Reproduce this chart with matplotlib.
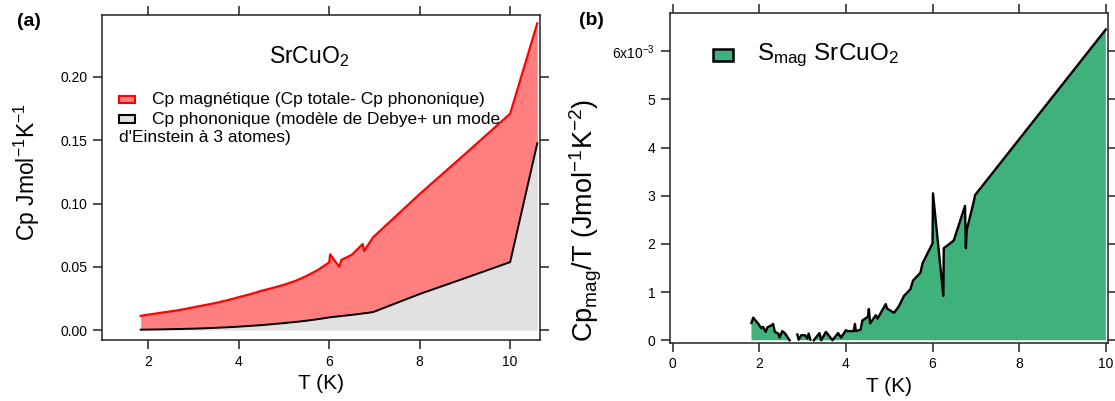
import numpy as np
import matplotlib
matplotlib.use("Agg")
import matplotlib.pyplot as plt
from matplotlib.patches import Rectangle

plt.rcParams['font.family'] = ['Liberation Sans', 'DejaVu Sans']
plt.rcParams['mathtext.fontset'] = 'custom'
plt.rcParams['mathtext.rm'] = 'Liberation Sans'
plt.rcParams['mathtext.it'] = 'Liberation Sans'
plt.rcParams['mathtext.default'] = 'regular'

# -- panel (a): Cp total (red) and phonon part (black), J/mol/K
T_a = [1.83, 2.0, 2.25, 2.5, 2.75, 3.0, 3.25, 3.5, 3.75, 4.0, 4.25, 4.5, 4.75,
       5.0, 5.25, 5.5, 5.75, 6.0, 6.02, 6.22, 6.27, 6.5, 6.74, 6.77, 6.97,
       8.0, 9.0, 10.0, 10.6]
cp_total = [0.0112, 0.0122, 0.0135, 0.0148, 0.0162, 0.018, 0.0197, 0.0215,
            0.0236, 0.026, 0.0283, 0.031, 0.0333, 0.0358, 0.0388, 0.0428,
            0.0475, 0.0535, 0.0598, 0.050, 0.0555, 0.0595, 0.068, 0.0625,
            0.0733, 0.1075, 0.139, 0.171, 0.2424]
cp_phonon = [0.0003, 0.0004, 0.0005, 0.0007, 0.0009, 0.0011, 0.0014, 0.0018,
             0.0022, 0.0027, 0.0033, 0.0039, 0.0047, 0.0055, 0.0064, 0.0074,
             0.0086, 0.0100, 0.0101, 0.0109, 0.0111, 0.0120, 0.0131, 0.0132,
             0.0142, 0.0285, 0.041, 0.0537, 0.1476]

# -- panel (b): Cp_mag/T in units of 1e-3 J/mol/K^2 (nan = gap in data)
T_b = [1.82, 1.86, 1.98, 2.05, 2.09, 2.15, 2.19, 2.28, 2.32, 2.36, 2.44, 2.47,
       2.53, 2.59, 2.64, 2.70, np.nan,
       2.88, 2.91, 2.97, 3.06, 3.11, 3.14, 3.18, np.nan,
       3.26, 3.39, 3.43, 3.54, 3.62, 3.69, 3.82, 3.89, 4.0, 4.04, 4.18, 4.21,
       4.23, 4.34, 4.38, 4.51, 4.53, 4.56, 4.69, 4.73, 4.92, 4.95, 5.11, 5.22,
       5.34, 5.49, 5.55, 5.72, 5.77, 6.0, 6.01, 6.25, 6.26, 6.49, 6.75, 6.77,
       6.79, 6.96, 6.98, 10.0]
cpmag_T = [0.36, 0.47, 0.34, 0.245, 0.28, 0.175, 0.27, 0.31, 0.34, 0.175, 0.14,
           0.056, 0.19, 0.15, 0.084, 0.0, np.nan,
           0.12, 0.014, 0.105, 0.105, 0.035, 0.14, 0.014, np.nan,
           0.0, 0.15, 0.0, 0.175, 0.084, 0.0, 0.15, 0.056, 0.21, 0.19, 0.19, 0.34,
           0.19, 0.22, 0.41, 0.49, 0.65, 0.35, 0.52, 0.45, 0.75, 0.66, 0.57, 0.70,
           0.92, 1.06, 1.24, 1.40, 1.60, 2.01, 3.05, 0.92, 1.91, 2.07, 2.79, 1.91,
           2.29, 2.91, 3.01, 6.45]

fig = plt.figure(figsize=(11.15, 4.01), dpi=100)
ax1 = fig.add_axes([0.0913, 0.152, 0.393, 0.8106])
ax2 = fig.add_axes([0.6007, 0.1454, 0.393, 0.822])

def style(ax):
    for s in ax.spines.values():
        s.set_linewidth(1.1)
        s.set_color('#222222')
    ax.tick_params(direction='out', length=6.5, width=1.1, color='#222222',
                   top=True, right=True, labelsize=10, pad=4)

# ---- (a)
t = np.array(T_a)
ax1.fill_between(t, 0, cp_phonon, color='#e1e1e1', lw=0)
ax1.fill_between(t, cp_phonon, cp_total, color='#ff7f7f', lw=0)
ax1.plot(t, cp_total, color='red', lw=1.6)
ax1.plot(t, cp_phonon, color='black', lw=1.4)
ax1.set_xlim(0.97, 10.66)
ax1.set_ylim(-0.0079, 0.249)
ax1.set_xticks([2, 4, 6, 8, 10])
ax1.set_yticks([0, 0.05, 0.10, 0.15, 0.20])
ax1.yaxis.set_major_formatter(matplotlib.ticker.FormatStrFormatter('%.2f'))
style(ax1)
ax1.set_xlabel('T (K)', fontsize=15, labelpad=4)
ax1.set_ylabel('Cp Jmol$^{-1}$K$^{-1}$', fontsize=16.5)
ax1.yaxis.set_label_coords(-0.136, 0.517)

ax1.text(0.473, 0.871, 'SrCuO$_2$', transform=ax1.transAxes, fontsize=16.5,
         ha='center', va='center')
ax1.add_patch(Rectangle((0.040, 0.728), 0.035, 0.024, transform=ax1.transAxes,
                        facecolor='#ff7f7f', edgecolor='red', lw=1.5))
ax1.add_patch(Rectangle((0.040, 0.669), 0.035, 0.024, transform=ax1.transAxes,
                        facecolor='#e1e1e1', edgecolor='black', lw=1.5))
ax1.text(0.114, 0.741, 'Cp magnétique (Cp totale- Cp phononique)',
         transform=ax1.transAxes, fontsize=12.5, va='center')
ax1.text(0.114, 0.680, 'Cp phononique (modèle de Debye+ un mode',
         transform=ax1.transAxes, fontsize=12.5, va='center')
ax1.text(0.039, 0.622, "d'Einstein à 3 atomes)",
         transform=ax1.transAxes, fontsize=12.5, va='center')

# ---- (b)
tb = np.array(T_b)
yb = np.array(cpmag_T)
ax2.fill_between(tb, 0, yb, color='#3fb17b', lw=0)
ax2.plot(tb, yb, color='black', lw=1.7)
ax2.set_xlim(-0.065, 10.05)
ax2.set_ylim(-0.05, 6.79)
ax2.set_xticks([0, 2, 4, 6, 8, 10])
ax2.set_yticks([0, 1, 2, 3, 4, 5, 6])
ax2.set_yticklabels(['0', '1', '2', '3', '4', '5', '6x10$^{-3}$'])
style(ax2)
ax2.set_xlabel('T (K)', fontsize=15, labelpad=4)
ax2.set_ylabel('Cp$_{mag}$/T (Jmol$^{-1}$K$^{-2}$)', fontsize=19.5)
ax2.yaxis.set_label_coords(-0.149, 0.372)

ax2.add_patch(Rectangle((0.099, 0.855), 0.0445, 0.035, transform=ax2.transAxes,
                        facecolor='#3fb17b', edgecolor='black', lw=1.8))
ax2.text(0.1995, 0.873, 'S$_{mag}$ SrCuO$_2$', transform=ax2.transAxes,
         fontsize=17.5, va='center')

fig.text(0.026, 0.946, '(a)', fontsize=14, fontweight='bold', ha='center', va='center')
fig.text(0.530, 0.948, '(b)', fontsize=14, fontweight='bold', ha='center', va='center')

fig.savefig('out.png', dpi=100)
